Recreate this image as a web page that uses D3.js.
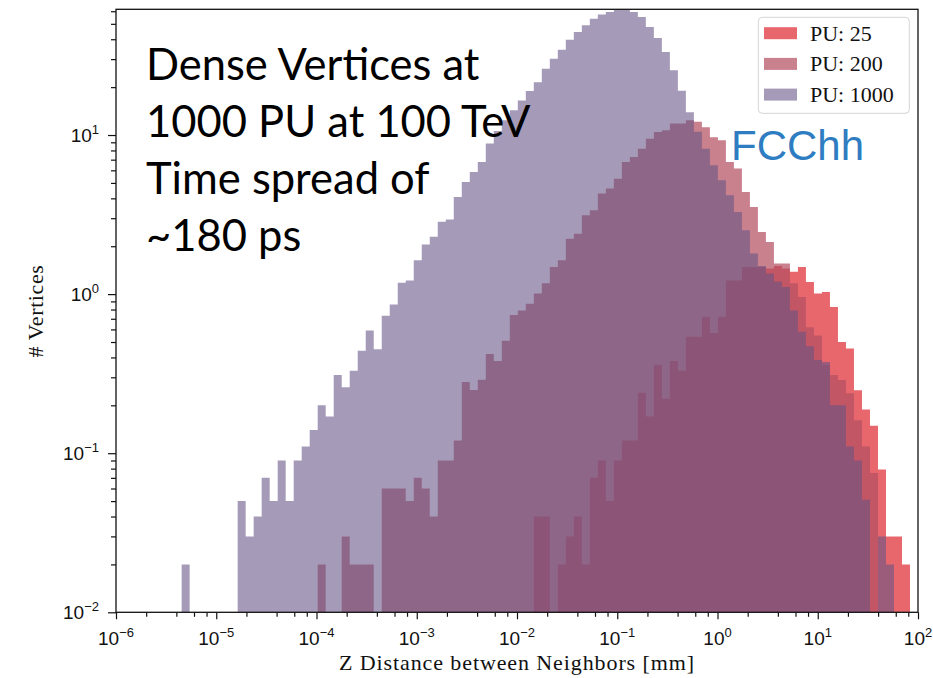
<!DOCTYPE html>
<html>
<head>
<meta charset="utf-8">
<script src="https://cdn.jsdelivr.net/npm/d3@7"></script>
<style>
  html, body { margin: 0; padding: 0; background: #ffffff; }
  svg { display: block; }
</style>
</head>
<body>
<svg id="chart" width="933" height="678"></svg>
<script>
// Histogram binning: log10 range of the bin edges and number of bins
const binLog = [-5.984, 2.0];
const binCount = 100;

// Series names, in drawing order
const seriesNames = ["PU: 25", "PU: 200", "PU: 1000"];

// Per-bin heights (# vertices) for each pile-up scenario
const pu25 = [
  0, 0, 0, 0, 0, 0, 0, 0, 0, 0,
  0, 0, 0, 0, 0, 0, 0, 0, 0, 0,
  0, 0, 0, 0, 0, 0, 0, 0, 0, 0,
  0, 0, 0, 0, 0, 0, 0, 0, 0, 0,
  0, 0, 0, 0, 0, 0, 0, 0, 0, 0,
  0, 0, 0.04, 0.04, 0, 0.02, 0.03, 0.04, 0.02, 0.07,
  0.09, 0.05, 0.09, 0.12, 0.12, 0.24, 0.17, 0.36, 0.22, 0.38,
  0.33, 0.54, 0.54, 0.72, 0.57, 0.72, 1.22, 1.22, 1.48, 1.48,
  1.48, 1.45, 1.5, 1.45, 1.38, 1.48, 1.19, 1.01, 1.03, 0.83,
  0.5, 0.455, 0.249, 0.188, 0.149, 0.079, 0.03, 0.03, 0.02, 0
];
const pu200 = [
  0, 0, 0, 0, 0, 0, 0, 0, 0, 0,
  0, 0, 0, 0, 0, 0, 0, 0, 0, 0,
  0, 0, 0, 0, 0, 0.02, 0, 0, 0.03, 0.02,
  0.02, 0.02, 0, 0.06, 0.06, 0.06, 0.05, 0.07, 0.06, 0.04,
  0.09, 0.09, 0.12, 0.28, 0.25, 0.29, 0.42, 0.38, 0.51, 0.74,
  0.79, 0.87, 1.01, 1.17, 1.48, 1.63, 2.23, 2.4, 3.13, 3.37,
  4.29, 4.61, 5.32, 6.77, 7.27, 8.21, 9.49, 10.45, 10.7, 11.8,
  11.8, 12.4, 12.1, 11.2, 9.7, 9.26, 6.77, 6.15, 4.38, 3.53,
  2.46, 2.13, 1.56, 1.56, 1.17, 0.96, 0.62, 0.55, 0.36, 0.31,
  0.288, 0.238, 0.161, 0.11, 0.075, 0, 0, 0, 0, 0
];
const pu1000 = [
  0, 0, 0, 0, 0, 0, 0, 0, 0.02, 0,
  0, 0, 0, 0, 0, 0.05, 0.03, 0.04, 0.07, 0.05,
  0.09, 0.05, 0.09, 0.11, 0.14, 0.2, 0.17, 0.31, 0.26, 0.33,
  0.44, 0.59, 0.45, 0.73, 0.86, 1.18, 1.22, 1.63, 2.05, 2.29,
  2.85, 2.94, 4.08, 5.07, 5.86, 6.77, 8.83, 10.6, 12.4, 14.3,
  16.5, 18.9, 21.5, 26.1, 30.2, 34.4, 39.7, 44.4, 48.9, 53.8,
  57.3, 59.3, 61.5, 61.5, 59.3, 55.1, 47.7, 40.8, 33.2, 25.5,
  19.0, 13.9, 10.5, 8.2, 6.45, 5.2, 4.18, 3.28, 2.52, 1.8,
  1.5, 1.35, 1.2, 1.11, 0.79, 0.58, 0.47, 0.385, 0.375, 0.2,
  0.2, 0.11, 0.09, 0.051, 0, 0.03, 0.02, 0, 0, 0
];

// Axis ticks
const xTicks = [1e-6, 1e-5, 1e-4, 1e-3, 1e-2, 1e-1, 1e0, 1e1, 1e2];
const yTicks = [1e-2, 1e-1, 1e0, 1e1];
const xMinorSubs = [2, 4, 6, 8];
const yMinorSubs = [2, 3, 4, 5, 6, 7, 8, 9];

// Annotation text
const noteLines = ["Dense Vertices at", "1000 PU at 100 TeV", "Time spread of", "~180 ps"];
const tagText = "FCChh";
const xLabel = "Z Distance between Neighbors [mm]";
const yLabel = "# Vertices";

// ---------------------------------------------------------------------------
const plot = { left: 116, right: 918, top: 9.3, bottom: 612.3 };

const fills = [
  { color: "rgb(223,44,52)",  opacity: 0.72 },
  { color: "rgb(180,80,99)",  opacity: 0.72 },
  { color: "rgb(100,83,133)", opacity: 0.58 }
];
const seriesValues = [pu25, pu200, pu1000];

const svg = d3.select("#chart");

const x = d3.scaleLog().domain([1e-6, 1e2]).range([plot.left, plot.right]);
const y = d3.scaleLog().domain([1e-2, 61.7]).range([plot.bottom, plot.top]);

const edges = d3.range(binCount + 1).map(i =>
  Math.pow(10, binLog[0] + i * (binLog[1] - binLog[0]) / binCount));

svg.append("defs").append("clipPath").attr("id", "plotClip")
  .append("rect")
  .attr("x", plot.left).attr("y", plot.top)
  .attr("width", plot.right - plot.left).attr("height", plot.bottom - plot.top);

// Filled step histograms, one path per series
const area = d3.area()
  .curve(d3.curveStepAfter)
  .x(d => x(d[0]))
  .y0(plot.bottom)
  .y1(d => d[1] > 0 ? y(d[1]) : plot.bottom);

const histG = svg.append("g").attr("clip-path", "url(#plotClip)");
seriesValues.forEach((vals, s) => {
  const pts = vals.map((v, i) => [edges[i], v]);
  pts.push([edges[binCount], vals[binCount - 1]]);
  histG.append("path")
    .datum(pts)
    .attr("d", area)
    .attr("fill", fills[s].color)
    .attr("fill-opacity", fills[s].opacity);
});

// Axes: major and minor ticks, pointing outward
function minorValues(scale, subs) {
  const [d0, d1] = scale.domain();
  const out = [];
  for (let e = Math.floor(Math.log10(d0)); e <= Math.ceil(Math.log10(d1)); e++) {
    subs.forEach(s => {
      const v = s * Math.pow(10, e);
      if (v > d0 && v < d1) out.push(v);
    });
  }
  return out;
}

const xAxisMajor = d3.axisBottom(x).tickValues(xTicks).tickSize(7).tickFormat("");
const xAxisMinor = d3.axisBottom(x).tickValues(minorValues(x, xMinorSubs)).tickSize(4.5).tickFormat("");
const yAxisMajor = d3.axisLeft(y).tickValues(yTicks).tickSize(8).tickFormat("");
const yAxisMinor = d3.axisLeft(y).tickValues(minorValues(y, yMinorSubs)).tickSize(5).tickFormat("");

function styleAxis(g) {
  g.select(".domain").remove();
  g.selectAll(".tick line").attr("stroke", "#111").attr("stroke-width", 1.2);
}
svg.append("g").attr("transform", `translate(0,${plot.bottom})`).call(xAxisMajor).call(styleAxis);
svg.append("g").attr("transform", `translate(0,${plot.bottom})`).call(xAxisMinor).call(styleAxis);
svg.append("g").attr("transform", `translate(${plot.left},0)`).call(yAxisMajor).call(styleAxis);
svg.append("g").attr("transform", `translate(${plot.left},0)`).call(yAxisMinor).call(styleAxis);

// Frame
svg.append("rect")
  .attr("x", plot.left).attr("y", plot.top)
  .attr("width", plot.right - plot.left).attr("height", plot.bottom - plot.top)
  .attr("fill", "none").attr("stroke", "#111").attr("stroke-width", 1.3);

// Power-of-ten tick labels
function powerLabel(sel) {
  sel.each(function (d) {
    const e = Math.round(Math.log10(d));
    const t = d3.select(this);
    t.append("tspan").text("10");
    t.append("tspan")
      .attr("font-size", 13)
      .attr("dy", -8)
      .text(String(e).replace("-", "\u2212"));
  });
}
const tickFont = "'Liberation Sans', Arial, Helvetica, sans-serif";

svg.append("g").selectAll("text").data(xTicks).join("text")
  .attr("x", d => x(d))
  .attr("y", 645)
  .attr("text-anchor", "middle")
  .attr("font-family", tickFont)
  .attr("font-size", 19)
  .attr("fill", "#111")
  .call(powerLabel);

svg.append("g").selectAll("text").data(yTicks).join("text")
  .attr("x", 99)
  .attr("y", d => y(d) + 7)
  .attr("text-anchor", "end")
  .attr("font-family", tickFont)
  .attr("font-size", 19)
  .attr("fill", "#111")
  .call(powerLabel);

// Axis titles
const serif = "'Liberation Serif', 'Times New Roman', serif";
svg.append("text")
  .attr("x", (plot.left + plot.right) / 2)
  .attr("y", 670)
  .attr("text-anchor", "middle")
  .attr("font-family", serif)
  .attr("font-size", 22)
  .attr("letter-spacing", 0.9)
  .attr("fill", "#111")
  .text(xLabel);

svg.append("text")
  .attr("transform", "translate(43,311) rotate(-90)")
  .attr("text-anchor", "middle")
  .attr("font-family", serif)
  .attr("font-size", 22)
  .attr("letter-spacing", 0.6)
  .attr("fill", "#111")
  .text(yLabel);

// Legend
const legend = svg.append("g");
legend.append("rect")
  .attr("x", 758.3).attr("y", 17.3).attr("width", 151).attr("height", 96)
  .attr("rx", 4).attr("ry", 4)
  .attr("fill", "#ffffff").attr("fill-opacity", 0.85)
  .attr("stroke", "#d4d4d4").attr("stroke-width", 1);
const rows = legend.selectAll("g.row").data(seriesNames).join("g")
  .attr("class", "row")
  .attr("transform", (d, i) => `translate(764,${33.2 + i * 30.7})`);
rows.append("rect")
  .attr("x", 0).attr("y", -6).attr("width", 33).attr("height", 12)
  .attr("fill", (d, i) => fills[i].color)
  .attr("fill-opacity", (d, i) => fills[i].opacity);
rows.append("text")
  .attr("x", 46).attr("y", 7.5)
  .attr("font-family", serif)
  .attr("font-size", 22)
  .attr("fill", "#111")
  .text(d => d);

// Annotations
svg.append("g").selectAll("text").data(noteLines).join("text")
  .attr("x", 146)
  .attr("y", (d, i) => 79.5 + i * 57)
  .attr("font-family", "Lato, 'Open Sans', sans-serif")
  .attr("font-size", 43.5)
  .attr("fill", "#000")
  .text(d => d);

svg.append("text")
  .attr("x", 731)
  .attr("y", 160)
  .attr("font-family", "'Liberation Sans', Arial, sans-serif")
  .attr("font-size", 42)
  .attr("fill", "#2e7cc1")
  .text(tagText);
</script>
</body>
</html>
